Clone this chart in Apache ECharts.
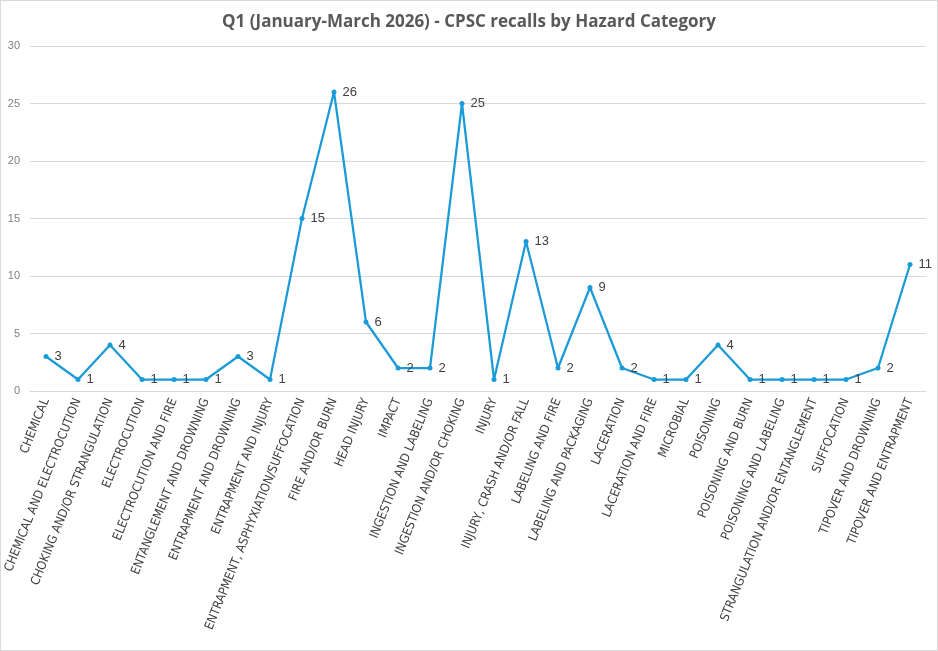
<!DOCTYPE html>
<html>
<head>
<meta charset="utf-8">
<script src="https://cdn.jsdelivr.net/npm/echarts@6/dist/echarts.min.js"></script>
<style>
  html, body { margin: 0; padding: 0; background: #fff; }
  #main { width: 936px; height: 649px; border: 1px solid #d9d9d9; }
</style>
</head>
<body>
<div id="main"></div>
<script>
var titleText = 'Q1 (January-March 2026) - CPSC recalls by Hazard Category';

var categories = [
  'CHEMICAL', 'CHEMICAL AND ELECTROCUTION', 'CHOKING AND/OR STRANGULATION',
  'ELECTROCUTION', 'ELECTROCUTION AND FIRE', 'ENTANGLEMENT AND DROWNING',
  'ENTRAPMENT AND DROWNING', 'ENTRAPMENT AND INJURY',
  'ENTRAPMENT, ASPHYXIATION/SUFFOCATION', 'FIRE AND/OR BURN', 'HEAD INJURY',
  'IMPACT', 'INGESTION AND LABELING', 'INGESTION AND/OR CHOKING', 'INJURY',
  'INJURY, CRASH AND/OR FALL', 'LABELING AND FIRE', 'LABELING AND PACKAGING',
  'LACERATION', 'LACERATION AND FIRE', 'MICROBIAL', 'POISONING',
  'POISONING AND BURN', 'POISONING AND LABELING',
  'STRANGULATION AND/OR ENTANGLEMENT', 'SUFFOCATION', 'TIPOVER AND DROWNING',
  'TIPOVER AND ENTRAPMENT'
];

var recalls = [3, 1, 4, 1, 1, 1, 3, 1, 15, 26, 6, 2, 2, 25, 1, 13, 2, 9, 2, 1, 1, 4, 1, 1, 1, 1, 2, 11];

var yTicks = { min: 0, max: 30, interval: 5 };

var myChart = echarts.init(document.getElementById('main'));
var option = {
  backgroundColor: '#fff',
  animation: false,
  title: {
    text: titleText,
    left: 'center',
    top: 8,
    textStyle: {
      color: '#595959',
      fontSize: 17,
      fontWeight: 'bold',
      fontFamily: 'Open Sans'
    }
  },
  grid: {
    left: 29,
    right: 11,
    top: 45,
    bottom: 259,
    containLabel: false,
    outerBoundsMode: 'none'
  },
  xAxis: {
    type: 'category',
    data: categories,
    boundaryGap: true,
    axisLine: { lineStyle: { color: '#d9d9d9' } },
    axisTick: { show: false },
    axisLabel: {
      interval: 0,
      rotate: 68,
      color: '#404040',
      fontSize: 12.5,
      fontFamily: 'Liberation Sans Narrow, DejaVu Sans Condensed, sans-serif',
      margin: 8
    }
  },
  yAxis: {
    type: 'value',
    min: yTicks.min,
    max: yTicks.max,
    interval: yTicks.interval,
    axisLine: { show: false },
    axisTick: { show: false },
    splitLine: { lineStyle: { color: '#d9d9d9' } },
    axisLabel: {
      color: '#7f7f7f',
      fontSize: 11,
      fontFamily: 'Liberation Sans',
      margin: 10
    }
  },
  series: [
    {
      type: 'line',
      data: recalls,
      symbol: 'circle',
      symbolSize: 5,
      lineStyle: { color: '#1a9bd7', width: 2.25 },
      itemStyle: { color: '#1a9bd7' },
      label: {
        show: true,
        position: 'right',
        distance: 6,
        color: '#404040',
        fontSize: 13,
        fontFamily: 'Liberation Sans'
      }
    }
  ]
};
myChart.setOption(option);
window.addEventListener('resize', function () {
  myChart.resize();
});
</script>
</body>
</html>
